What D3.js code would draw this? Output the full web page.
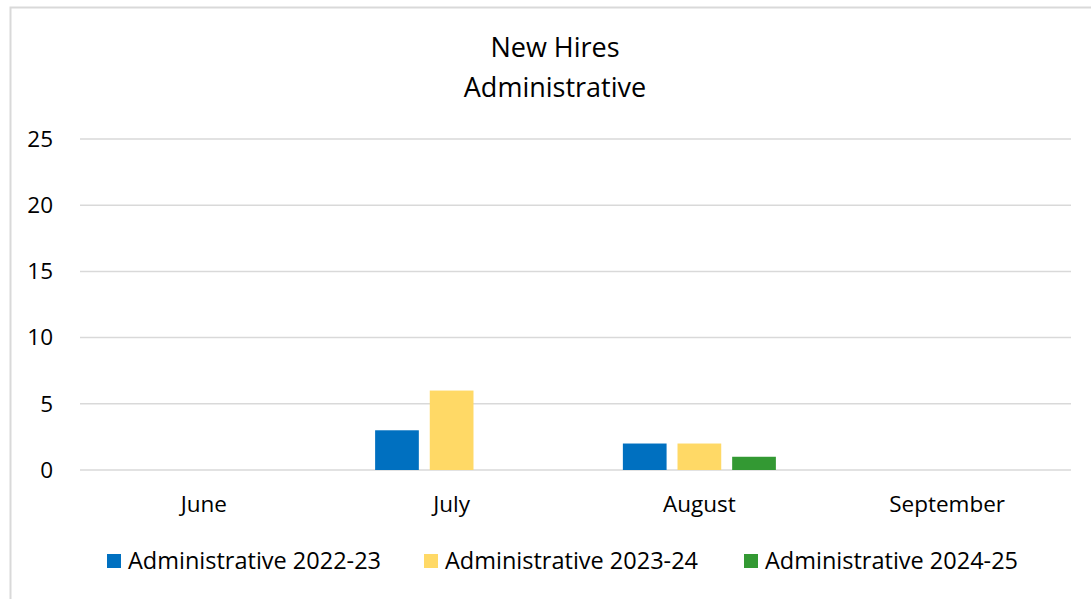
<!DOCTYPE html>
<html>
<head>
<meta charset="utf-8">
<script src="https://cdn.jsdelivr.net/npm/d3@7/dist/d3.min.js"></script>
<style>
  body { margin: 0; background: #fff; }
  svg text { font-family: "Open Sans", "Noto Sans", sans-serif; fill: #000; }
</style>
</head>
<body>
<svg id="chart" width="1091" height="599"></svg>
<script>
var months = ["June", "July", "August", "September"];
var seriesNames = ["Administrative 2022-23", "Administrative 2023-24", "Administrative 2024-25"];
var admin2223 = [0, 3, 2, 0];
var admin2324 = [0, 6, 2, 0];
var admin2425 = [0, 0, 1, 0];
var yTicks = [0, 5, 10, 15, 20, 25];
var colors = ["#0070c0", "#ffd966", "#339933"];

var allSeries = [admin2223, admin2324, admin2425];

var svg = d3.select("#chart");

// outer frame
svg.append("rect")
	.attr("x", 10.5).attr("y", 7.5)
	.attr("width", 1100).attr("height", 620)
	.attr("fill", "none")
	.attr("stroke", "#d9d9d9")
	.attr("stroke-width", 2);

var x0 = d3.scaleBand().domain(months).range([80, 1071]);
var groupW = x0.bandwidth() * 0.6176;
var x1 = d3.scaleBand().domain(d3.range(allSeries.length))
	.range([(x0.bandwidth() - groupW) / 2, (x0.bandwidth() + groupW) / 2])
	.paddingInner(0.2);
var y = d3.scaleLinear().domain([0, 25]).range([470, 139]);

// title
svg.append("text").attr("x", 555).attr("y", 57).attr("text-anchor", "middle")
	.attr("font-size", 27).text("New Hires");
svg.append("text").attr("x", 555).attr("y", 97).attr("text-anchor", "middle")
	.attr("font-size", 27).text("Administrative");

// gridlines
svg.append("g").selectAll("line").data(yTicks).enter().append("line")
	.attr("x1", 80).attr("x2", 1071)
	.attr("y1", function (d) { return y(d); })
	.attr("y2", function (d) { return y(d); })
	.attr("stroke", "#d9d9d9")
	.attr("stroke-width", 1.5);

// y axis labels
var yAxis = d3.axisLeft(y).tickValues(yTicks).tickSize(0).tickPadding(0);
var yg = svg.append("g").attr("transform", "translate(53,0)").call(yAxis);
yg.select(".domain").remove();
yg.selectAll("text").attr("font-size", 22.5).attr("font-family", "Open Sans");

// x axis labels
var xAxis = d3.axisBottom(x0).tickSize(0).tickPadding(0);
var xg = svg.append("g").attr("transform", "translate(0,496)").call(xAxis);
xg.select(".domain").remove();
xg.selectAll("text").attr("font-size", 22.5).attr("font-family", "Open Sans");

// bars
var groups = svg.append("g").selectAll("g").data(months).enter().append("g")
	.attr("transform", function (d) { return "translate(" + x0(d) + ",0)"; });

groups.selectAll("rect")
	.data(function (d, i) {
		return allSeries.map(function (s, k) { return { k: k, v: s[i] }; });
	})
	.enter().append("rect")
	.attr("x", function (d) { return x1(d.k); })
	.attr("width", x1.bandwidth())
	.attr("y", function (d) { return y(d.v); })
	.attr("height", function (d) { return y(0) - y(d.v); })
	.attr("fill", function (d) { return colors[d.k]; });

// legend
var legendX = [107, 424, 744];
var leg = svg.append("g").selectAll("g").data(seriesNames).enter().append("g")
	.attr("transform", function (d, i) { return "translate(" + legendX[i] + ",554)"; });
leg.append("rect").attr("width", 14).attr("height", 14)
	.attr("fill", function (d, i) { return colors[i]; });
leg.append("text").attr("x", 21).attr("y", 15).attr("font-size", 23.5)
	.text(function (d) { return d; });
</script>
</body>
</html>
